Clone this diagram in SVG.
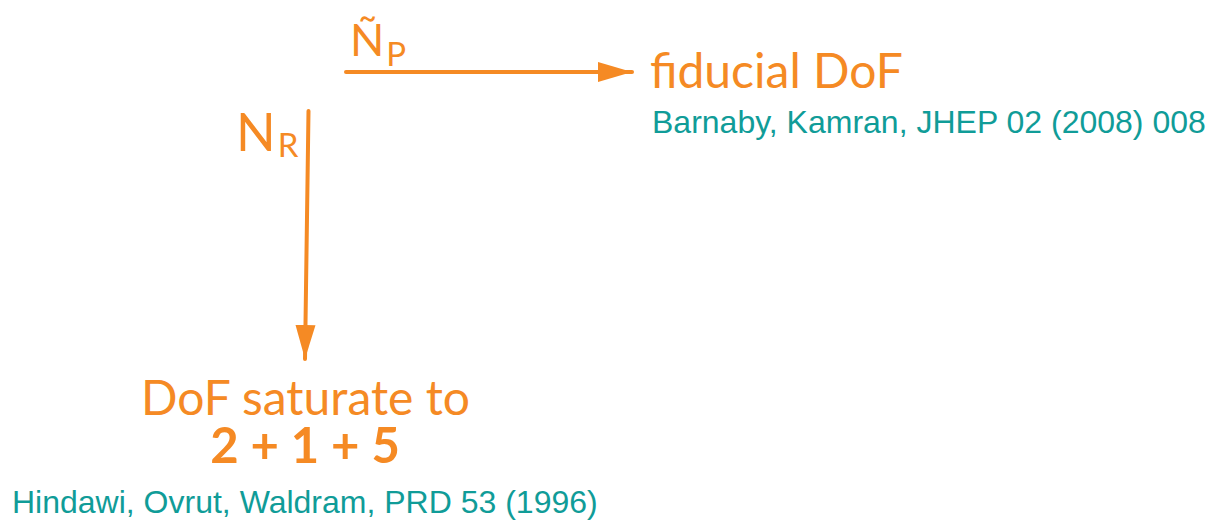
<svg xmlns="http://www.w3.org/2000/svg" width="1210" height="520" viewBox="0 0 1210 520">
  <style>
    .lbl { font-family: Lato, "Open Sans", sans-serif; fill: #F58A24; }
    .ref { font-family: "Liberation Sans", Arial, sans-serif; fill: #109C98; font-size: 32px; }
    .edge { stroke: #F58A24; stroke-width: 4; fill: none; stroke-linecap: round; }
  </style>
  <defs>
    <marker id="head" markerUnits="userSpaceOnUse" markerWidth="36" markerHeight="24" refX="34" refY="12" orient="auto">
      <path d="M0,2 L34,12 L0,22 Z" fill="#F58A24"/>
    </marker>
  </defs>
  <rect width="1210" height="520" fill="#ffffff"/>

  <g id="connectors">
    <line class="edge" x1="346" y1="72" x2="632" y2="72" marker-end="url(#head)"/>
    <line class="edge" x1="308.5" y1="111" x2="305" y2="359" marker-end="url(#head)"/>
  </g>

  <g id="edge-label-np">
    <text class="lbl" x="350" y="56" font-size="45">Ñ<tspan font-size="33" dy="10" dx="2">P</tspan></text>
  </g>
  <g id="edge-label-nr">
    <text class="lbl" x="236" y="151" font-size="52">N<tspan font-size="33" dy="6" dx="2">R</tspan></text>
  </g>

  <g id="node-fiducial">
    <text class="lbl" x="650" y="88" font-size="48">fiducial DoF</text>
    <text class="ref" x="652" y="133">Barnaby, Kamran, JHEP 02 (2008) 008</text>
  </g>

  <g id="node-saturate">
    <text class="lbl" x="305.5" y="415" font-size="48" text-anchor="middle">DoF saturate to</text>
    <text class="lbl" x="305" y="463" font-size="49" font-weight="bold" text-anchor="middle">2 + 1 + 5</text>
    <text class="ref" x="12" y="513">Hindawi, Ovrut, Waldram, PRD 53 (1996)</text>
  </g>
</svg>
